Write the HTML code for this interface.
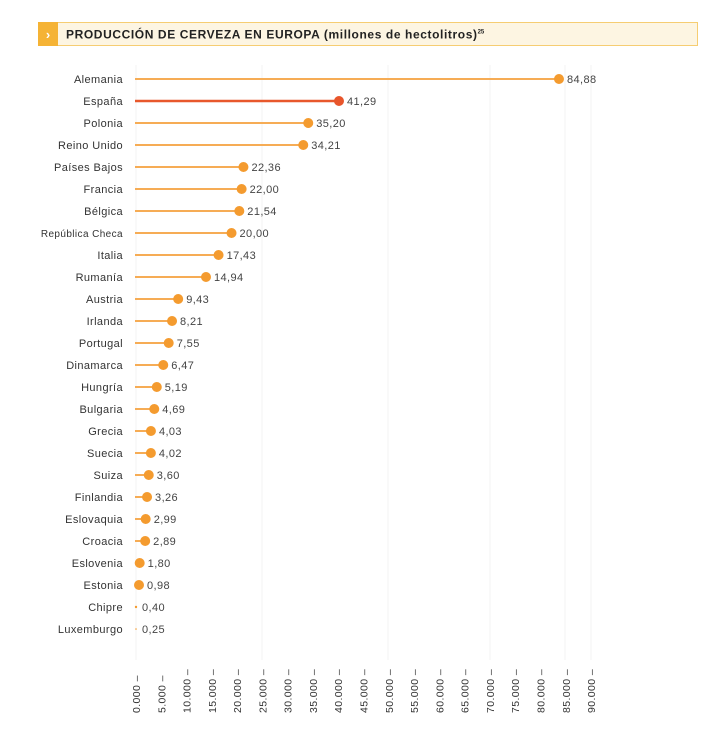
<!DOCTYPE html>
<html><head><meta charset="utf-8"><style>
body{margin:0;background:#fff;width:720px;height:751px;overflow:hidden;font-family:"Liberation Sans",sans-serif}
</style></head><body>
<svg width="720" height="751" xmlns="http://www.w3.org/2000/svg" font-family="Liberation Sans, sans-serif">
<rect x="38.5" y="22.5" width="659" height="23" fill="#fdf5e2" stroke="#f6cd72" stroke-width="1"/>
<rect x="38" y="22" width="20" height="24" fill="#f5b335"/>
<text x="48" y="39" font-size="13" font-weight="bold" fill="#fff" text-anchor="middle">›</text>
<text x="66" y="38.5" font-size="12" font-weight="bold" fill="#222" letter-spacing="0.6">PRODUCCIÓN DE CERVEZA EN EUROPA (millones de hectolitros)<tspan font-size="6" dy="-5" letter-spacing="0">25</tspan></text>
<g stroke="#f3f3f3" stroke-width="1">
<line x1="136" y1="65" x2="136" y2="660"/><line x1="262" y1="65" x2="262" y2="660"/><line x1="388" y1="65" x2="388" y2="660"/><line x1="490" y1="65" x2="490" y2="660"/><line x1="565" y1="65" x2="565" y2="660"/><line x1="591" y1="65" x2="591" y2="660"/>
</g>
<g id="rows" font-size="11" fill="#333"></g>
<g id="ticks" font-size="10.5" fill="#333"></g>
</svg>
<script>
var d=[["Alemania",84.88],["España",41.29],["Polonia",35.20],["Reino Unido",34.21],["Países Bajos",22.36],["Francia",22.00],["Bélgica",21.54],["República Checa",20.00],["Italia",17.43],["Rumanía",14.94],["Austria",9.43],["Irlanda",8.21],["Portugal",7.55],["Dinamarca",6.47],["Hungría",5.19],["Bulgaria",4.69],["Grecia",4.03],["Suecia",4.02],["Suiza",3.60],["Finlandia",3.26],["Eslovaquia",2.99],["Croacia",2.89],["Eslovenia",1.80],["Estonia",0.98],["Chipre",0.40],["Luxemburgo",0.25]];
var g=document.getElementById("rows"),s="";
d.forEach(function(r,i){var y=79+i*22,x=130.6+r[1]*5.047,sp=i==1;var lc=sp?"#e8582c":"#f6ac55",dc=sp?"#e8552b":"#f49b2f";
var fs=r[0]=="República Checa"?10:11;
s+='<text x="123" y="'+(y+4)+'" text-anchor="end" font-size="'+fs+'" letter-spacing="0.4">'+r[0]+'</text>';
if(x>136)s+='<line x1="135" y1="'+y+'" x2="'+x+'" y2="'+y+'" stroke="'+lc+'" stroke-width="'+(sp?2.5:2)+'"/>';
var rad=r[1]>0.9?5:(r[1]>0.3?1.2:0.8);var cx=Math.max(x,r[1]>0.9?139:136);
s+='<circle cx="'+cx+'" cy="'+y+'" r="'+rad+'" fill="'+dc+'"/>';
var lab=r[1].toFixed(2).replace(".",",");
s+='<text x="'+(cx+(rad>2?8:6))+'" y="'+(y+4)+'" fill="#444" letter-spacing="0.4">'+lab+'</text>';});
g.innerHTML=s;
var t="";for(var k=0;k<=18;k++){var x=136+k*25.28;var v=(k*5)+".000";
t+='<text transform="translate('+(x+4)+',713) rotate(-90)" text-anchor="start" letter-spacing="0.4">'+v+' –</text>';}
document.getElementById("ticks").innerHTML=t;
</script>
</body></html>
